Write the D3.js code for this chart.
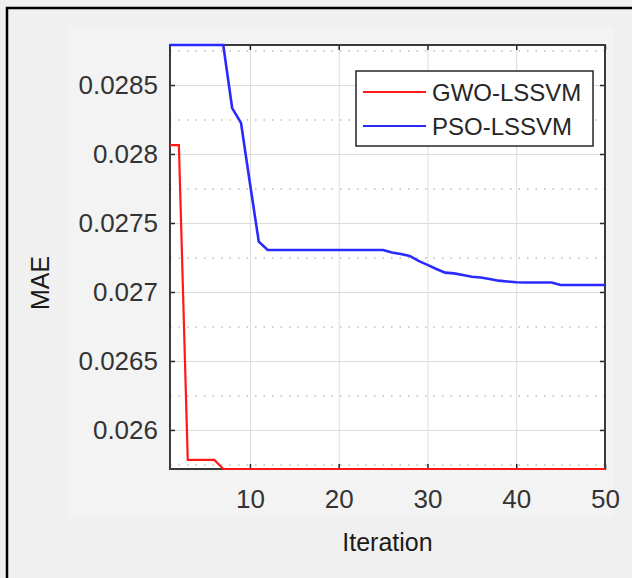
<!DOCTYPE html>
<html>
<head>
    <meta charset="utf-8">
    <title>MAE convergence</title>
    <script src="https://d3js.org/d3.v7.min.js" charset="utf-8"></script>
    <style>
        body { margin: 0; background: #f0f0f0; }
        text { font-family: "Liberation Sans", Arial, Helvetica, sans-serif; }
    </style>
</head>
<body>
    <script>
        // data
        var iterations = d3.range(1, 51);
        var gwoLssvm = [
            0.028065, 0.028065, 0.025783, 0.025783, 0.025783, 0.025783, 0.025717, 0.025717, 0.025717, 0.025717,
            0.025717, 0.025717, 0.025717, 0.025717, 0.025717, 0.025717, 0.025717, 0.025717, 0.025717, 0.025717,
            0.025717, 0.025717, 0.025717, 0.025717, 0.025717, 0.025717, 0.025717, 0.025717, 0.025717, 0.025717,
            0.025717, 0.025717, 0.025717, 0.025717, 0.025717, 0.025717, 0.025717, 0.025717, 0.025717, 0.025717,
            0.025717, 0.025717, 0.025717, 0.025717, 0.025717, 0.025717, 0.025717, 0.025717, 0.025717, 0.025717
        ];
        var psoLssvm = [
            0.02879, 0.02879, 0.02879, 0.02879, 0.02879, 0.02879, 0.02879, 0.028333, 0.028225, 0.02779,
            0.027365, 0.027304, 0.027304, 0.027304, 0.027304, 0.027304, 0.027304, 0.027304, 0.027304, 0.027304,
            0.027304, 0.027304, 0.027304, 0.027304, 0.027304, 0.027286, 0.027275, 0.027261, 0.027225, 0.027196,
            0.027167, 0.02714, 0.027135, 0.027123, 0.02711, 0.027105, 0.027094, 0.027082, 0.027076, 0.02707,
            0.027069, 0.027069, 0.027069, 0.027069, 0.027051, 0.027051, 0.027051, 0.027051, 0.027051, 0.027051
        ];
        var seriesNames = ["GWO-LSSVM", "PSO-LSSVM"];
        var xTicks = [10, 20, 30, 40, 50];
        var yTicks = [0.026, 0.0265, 0.027, 0.0275, 0.028, 0.0285];
        var yMinor = [0.02575, 0.02625, 0.02675, 0.02725, 0.02775, 0.02825, 0.02875];
        var yTickLabels = ["0.026", "0.0265", "0.027", "0.0275", "0.028", "0.0285"];

        var plot = {left: 170, right: 605, top: 45, bottom: 469};
        var W = plot.right - plot.left, H = plot.bottom - plot.top;

        var svg = d3.select("body")
            .append("svg")
            .attr("width", 632)
            .attr("height", 578);

        // figure background
        svg.append("rect").attr("width", 632).attr("height", 578).attr("fill", "#f0f0f0");
        svg.append("rect").attr("x", 68).attr("y", 26).attr("width", 546).attr("height", 492).attr("fill", "#f3f3f3");

        var x = d3.scaleLinear().domain([1, 50]).range([plot.left, plot.right]);
        var y = d3.scaleLinear().domain([d3.min(gwoLssvm), d3.max(psoLssvm)]).range([plot.bottom, plot.top]);

        var g = svg.append("g");

        // white axes area
        g.append("rect")
            .attr("x", plot.left).attr("y", plot.top)
            .attr("width", W).attr("height", H)
            .attr("fill", "white");

        // grid lines
        var xGrid = g.append("g")
            .attr("transform", "translate(0," + plot.bottom + ")")
            .call(d3.axisBottom(x).tickValues(xTicks).tickSize(-H).tickFormat(""));
        var yGrid = g.append("g")
            .attr("transform", "translate(" + plot.left + ",0)")
            .call(d3.axisLeft(y).tickValues(yTicks).tickSize(-W).tickFormat(""));
        var yMinorGrid = g.append("g")
            .attr("transform", "translate(" + plot.left + ",0)")
            .call(d3.axisLeft(y).tickValues(yMinor).tickSize(-W).tickFormat(""));
        [xGrid, yGrid, yMinorGrid].forEach(function(s){ s.select(".domain").remove(); });
        xGrid.selectAll("line").attr("stroke", "#dcdcdc").attr("stroke-width", 1);
        yGrid.selectAll("line").attr("stroke", "#dcdcdc").attr("stroke-width", 1);
        yMinorGrid.selectAll("line").attr("stroke", "#bdbdbd").attr("stroke-width", 1.5)
            .attr("stroke-dasharray", "1.5,7");

        // axes (inward ticks on all four sides)
        var xAxis = g.append("g")
            .attr("transform", "translate(0," + plot.bottom + ")")
            .call(d3.axisBottom(x).tickValues(xTicks).tickSize(-5).tickPadding(21).tickFormat(d3.format("d")));
        var yAxis = g.append("g")
            .attr("transform", "translate(" + plot.left + ",0)")
            .call(d3.axisLeft(y).tickValues(yTicks).tickSize(-5).tickPadding(12)
                .tickFormat(function(d, i){ return yTickLabels[i]; }));
        var topAxis = g.append("g")
            .attr("transform", "translate(0," + plot.top + ")")
            .call(d3.axisTop(x).tickValues(xTicks).tickSize(-5).tickFormat(""));
        var rightAxis = g.append("g")
            .attr("transform", "translate(" + plot.right + ",0)")
            .call(d3.axisRight(y).tickValues(yTicks).tickSize(-5).tickFormat(""));
        [xAxis, yAxis, topAxis, rightAxis].forEach(function(s){
            s.select(".domain").remove();
            s.selectAll("line").attr("stroke", "#262626").attr("stroke-width", 1.5);
            s.selectAll("text")
                .attr("fill", "#333333")
                .style("font-size", "26px")
                .style("font-family", "'Liberation Sans', Arial, sans-serif");
        });

        // axes box
        g.append("rect")
            .attr("x", plot.left).attr("y", plot.top)
            .attr("width", W).attr("height", H)
            .attr("fill", "none")
            .attr("stroke", "#3a3a3a")
            .attr("stroke-width", 2);

        // lines
        var line = d3.line()
            .x(function(d){ return x(d[0]); })
            .y(function(d){ return y(d[1]); });
        var colors = ["#ff1a1a", "#2a2aff"];
        var widths = [2.2, 2.6];
        [gwoLssvm, psoLssvm].forEach(function(vals, k){
            g.append("path")
                .datum(iterations.map(function(it, i){ return [it, vals[i]]; }))
                .attr("fill", "none")
                .attr("stroke", colors[k])
                .attr("stroke-width", widths[k])
                .attr("d", line);
        });

        // axis labels
        svg.append("text")
            .text("Iteration")
            .attr("x", (plot.left + plot.right) / 2)
            .attr("y", 551)
            .attr("text-anchor", "middle")
            .attr("fill", "#1a1a1a")
            .style("font-size", "25px");
        svg.append("text")
            .text("MAE")
            .attr("transform", "translate(49,283) rotate(-90)")
            .attr("text-anchor", "middle")
            .attr("fill", "#1a1a1a")
            .style("font-size", "25px");

        // legend
        var legend = svg.append("g");
        legend.append("rect")
            .attr("x", 356).attr("y", 71)
            .attr("width", 237).attr("height", 75)
            .attr("fill", "white")
            .attr("stroke", "#262626")
            .attr("stroke-width", 1.5);
        seriesNames.forEach(function(name, k){
            var ly = 92 + k * 34;
            legend.append("line")
                .attr("x1", 363).attr("x2", 426)
                .attr("y1", ly).attr("y2", ly)
                .attr("stroke", colors[k])
                .attr("stroke-width", 2);
            legend.append("text")
                .text(name)
                .attr("x", 432)
                .attr("y", ly + 9)
                .attr("fill", "#262626")
                .style("font-size", "24px");
        });

        // outer frame of the picture
        svg.append("path")
            .attr("d", "M7,580 L7,8 L640,8")
            .attr("fill", "none")
            .attr("stroke", "black")
            .attr("stroke-width", 2.5);
    </script>
</body>
</html>
